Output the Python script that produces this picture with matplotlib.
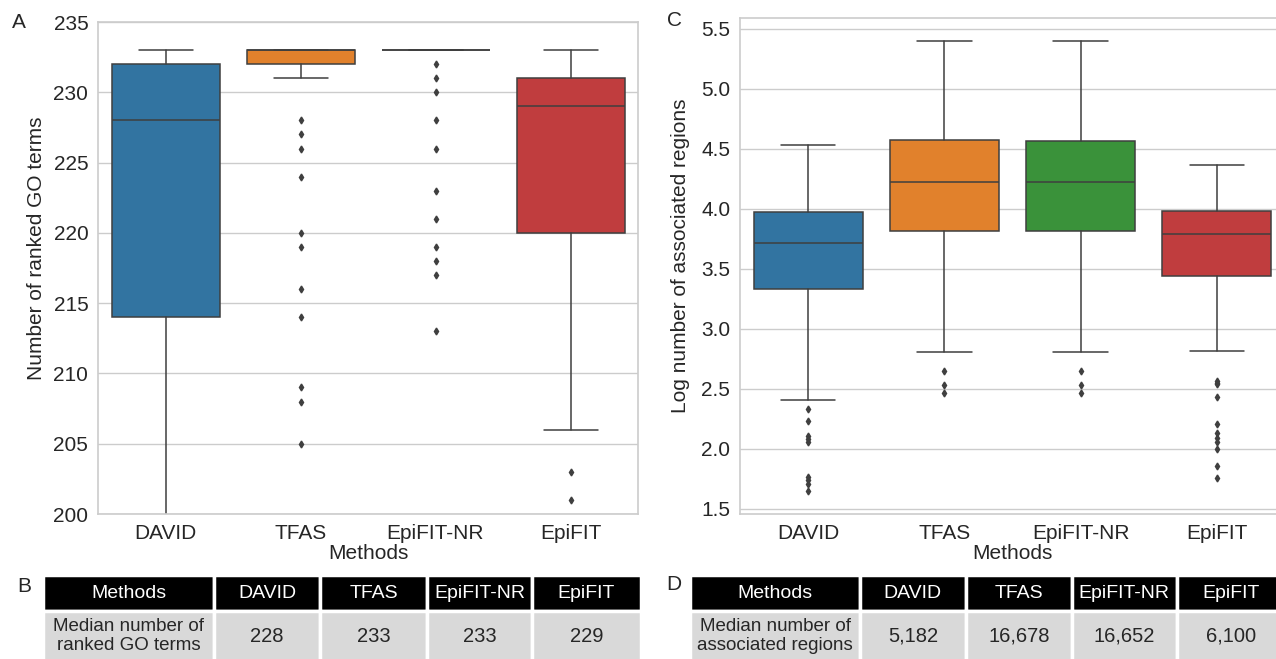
import matplotlib
matplotlib.use("Agg")
import matplotlib.pyplot as plt
import seaborn as sns

# dados
methods = ["DAVID", "TFAS", "EpiFIT-NR", "EpiFIT"]
colors = ["#3274a1", "#e1812c", "#3a923a", "#c03d3e"]

# painel A: número de termos GO ranqueados
go_whislo = [196, 231, 233, 206]
go_q1 = [214, 232, 233, 220]
go_med = [228, 233, 233, 229]
go_q3 = [232, 233, 233, 231]
go_whishi = [233, 233, 233, 233]
go_fliers = [
    [],
    [228, 227, 226, 224, 220, 219, 216, 214, 209, 208, 205],
    [232, 231, 230, 228, 226, 223, 221, 219, 218, 217, 213],
    [203, 201],
]

# painel C: log do número de regiões associadas
reg_whislo = [2.41, 2.81, 2.81, 2.82]
reg_q1 = [3.335, 3.817, 3.817, 3.442]
reg_med = [3.713, 4.224, 4.224, 3.790]
reg_q3 = [3.977, 4.578, 4.569, 3.980]
reg_whishi = [4.533, 5.40, 5.40, 4.370]
reg_fliers = [
    [2.33, 2.23, 2.11, 2.08, 2.06, 1.77, 1.74, 1.71, 1.65],
    [2.65, 2.53, 2.47],
    [2.65, 2.53, 2.47],
    [2.57, 2.55, 2.54, 2.43, 2.21, 2.13, 2.09, 2.06, 2.00, 1.86, 1.76],
]

# tabelas B e D
go_table_label = "Median number of\nranked GO terms"
go_table_values = ["228", "233", "233", "229"]
reg_table_label = "Median number of\nassociated regions"
reg_table_values = ["5,182", "16,678", "16,652", "6,100"]

sns.set_style("whitegrid")
plt.rcParams["font.family"] = ["Liberation Sans", "DejaVu Sans"]

W, H = 1276, 659
fig = plt.figure(figsize=(W / 100, H / 100), dpi=100)


def make_stats(lo, q1, med, q3, hi, fl):
    stats = []
    for i in range(len(methods)):
        stats.append({"whislo": lo[i], "q1": q1[i], "med": med[i], "q3": q3[i],
                      "whishi": hi[i], "fliers": fl[i], "label": methods[i]})
    return stats


def draw_box(ax, stats):
    line = {"color": "#3f3f3f", "linewidth": 1.1}
    bp = ax.bxp(stats, positions=range(len(methods)), widths=0.8, patch_artist=True,
                boxprops={"edgecolor": "#3f3f3f", "linewidth": 1.1},
                medianprops=line, whiskerprops=line, capprops=line,
                flierprops={"marker": "d", "markersize": 3.5, "markerfacecolor": "#3f3f3f",
                            "markeredgecolor": "#3f3f3f", "linestyle": "none"})
    for patch, c in zip(bp["boxes"], colors):
        patch.set_facecolor(c)
    ax.set_xlim(-0.5, len(methods) - 0.5)
    ax.grid(axis="x", visible=False)
    ax.grid(axis="y", color="#cccccc", linewidth=1)
    ax.set_axisbelow(True)
    for s in ax.spines.values():
        s.set_color("#cccccc")
        s.set_linewidth(1.2)
    ax.tick_params(labelsize=15, length=0, pad=7)
    ax.set_xlabel("Methods", fontsize=15, labelpad=1)


# painel A
axA = fig.add_axes([98 / W, 1 - 514 / H, 540 / W, 492 / H])
draw_box(axA, make_stats(go_whislo, go_q1, go_med, go_q3, go_whishi, go_fliers))
axA.set_ylim(200, 235)
axA.set_yticks(range(200, 236, 5))
axA.set_ylabel("Number of ranked GO terms", fontsize=15)
axA.yaxis.set_label_coords(-0.097, 0.54)

# painel C
axC = fig.add_axes([740 / W, 1 - 514 / H, 545 / W, 496.3 / H])
draw_box(axC, make_stats(reg_whislo, reg_q1, reg_med, reg_q3, reg_whishi, reg_fliers))
axC.set_ylim(1.458, 5.594)
axC.set_yticks([1.5, 2.0, 2.5, 3.0, 3.5, 4.0, 4.5, 5.0, 5.5])
axC.set_yticklabels(["%.1f" % v for v in axC.get_yticks()])
axC.set_ylabel("Log number of associated regions", fontsize=15)
axC.yaxis.set_label_coords(-0.092, 0.52)


def draw_table(x0, x1, label, values):
    tax = fig.add_axes([x0 / W, 1 - 661 / H, (x1 - x0) / W, 86 / H])
    tax.axis("off")
    cells = [["Methods"] + methods, [label] + values]
    widths = [171, 106, 107, 105, 109]
    tb = tax.table(cellText=cells, colWidths=[w / sum(widths) for w in widths],
                   cellLoc="center", bbox=[0, 0, 1, 1])
    tb.auto_set_font_size(False)
    for (r, c), cell in tb.get_celld().items():
        cell.set_edgecolor("white")
        cell.set_linewidth(2.5)
        if r == 0:
            cell.set_facecolor("black")
            cell.set_height(36)
            cell.get_text().set_color("white")
            cell.get_text().set_fontsize(14)
        else:
            cell.set_facecolor("#d9d9d9")
            cell.set_height(50)
            cell.get_text().set_fontsize(14.5 if c > 0 else 13.5)
    return tax


draw_table(43, 641, go_table_label, go_table_values)
draw_table(690, 1285, reg_table_label, reg_table_values)

# letras dos painéis
fig.text(12 / W, 1 - 22 / H, "A", fontsize=15, va="center")
fig.text(667 / W, 1 - 20 / H, "C", fontsize=15, va="center")
fig.text(17 / W, 1 - 587 / H, "B", fontsize=15, va="center")
fig.text(666 / W, 1 - 584 / H, "D", fontsize=15, va="center")

fig.savefig("out.png", dpi=100)
